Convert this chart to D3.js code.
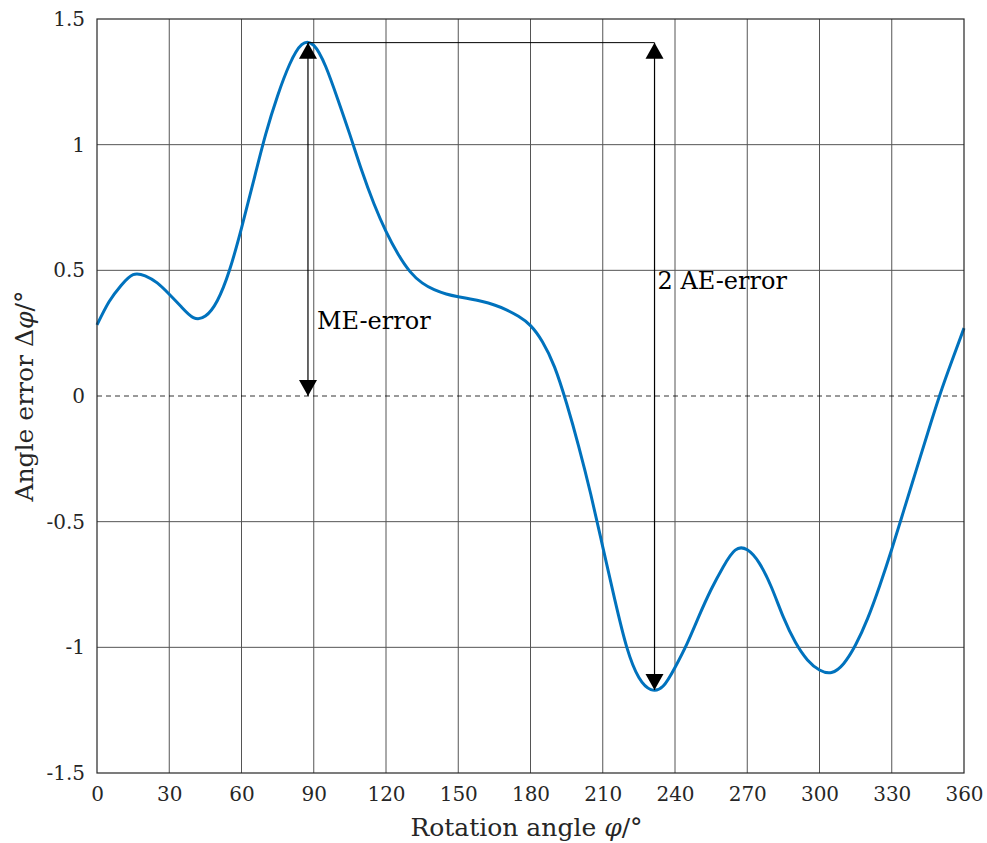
<!DOCTYPE html>
<html><head><meta charset="utf-8">
<script src="https://cdn.jsdelivr.net/npm/d3@7"></script>
<style>
body{margin:0;background:#fff}svg{display:block}
svg text{font-family:"DejaVu Serif","Liberation Serif","Times New Roman",serif !important;}
</style>
</head><body><svg id="c" width="987" height="843"></svg>
<script>
const phi = [0,5,10,15,20,25,30,35,40,45,50,55,60,65,70,75,80,85,90,95,100,105,110,115,120,125,130,135,140,145,150,155,160,165,170,175,180,185,190,195,200,205,210,215,220,225,230,235,240,245,250,255,260,265,270,275,280,285,290,295,300,305,310,315,320,325,330,335,340,345,350,355,360];
const err = [0.283,0.375,0.44,0.483,0.478,0.45,0.405,0.355,0.312,0.318,0.38,0.50,0.668,0.855,1.04,1.195,1.32,1.398,1.395,1.31,1.18,1.04,0.895,0.765,0.655,0.565,0.495,0.45,0.423,0.406,0.395,0.386,0.376,0.362,0.343,0.317,0.28,0.215,0.115,-0.03,-0.20,-0.39,-0.60,-0.81,-1.0,-1.12,-1.168,-1.155,-1.08,-0.985,-0.875,-0.77,-0.68,-0.613,-0.612,-0.665,-0.76,-0.88,-0.98,-1.05,-1.09,-1.10,-1.065,-0.99,-0.885,-0.755,-0.61,-0.455,-0.30,-0.145,0.005,0.14,0.27];
const xTicks = [0,30,60,90,120,150,180,210,240,270,300,330,360];
const yTicks = [-1.5,-1,-0.5,0,0.5,1,1.5];
const yTickLabels = ["-1.5","-1","-0.5","0","0.5","1","1.5"];
const mePhi = 87.6, meTop = 1.406, meBottom = 0;
const aePhi = 231.5, aeBottom = -1.17;

const svg = d3.select("#c");
const L=97,R=964,T=19,B=773;
const x = d3.scaleLinear().domain([0,360]).range([L,R]);
const y = d3.scaleLinear().domain([-1.5,1.5]).range([B,T]);

svg.append("g").selectAll("line").data(xTicks.slice(1,-1)).join("line")
  .attr("x1",d=>x(d)).attr("x2",d=>x(d)).attr("y1",T).attr("y2",B)
  .attr("stroke","#555").attr("stroke-width",1);
svg.append("g").selectAll("line").data(yTicks.filter(d=>d!==0 && Math.abs(d)!==1.5)).join("line")
  .attr("x1",L).attr("x2",R).attr("y1",d=>y(d)).attr("y2",d=>y(d))
  .attr("stroke","#555").attr("stroke-width",1);
svg.append("line").attr("x1",L).attr("x2",R).attr("y1",y(0)).attr("y2",y(0))
  .attr("stroke","#000").attr("stroke-width",0.8).attr("stroke-dasharray","5,4");

const xAxis = d3.axisBottom(x).tickValues(xTicks).tickSize(0).tickPadding(14);
const gx = svg.append("g").attr("transform",`translate(0,${B})`).call(xAxis);
gx.select(".domain").remove();
gx.selectAll("text").attr("font-size",20).attr("fill","#262626");
const yAxis = d3.axisLeft(y).tickValues(yTicks).tickFormat((d,i)=>yTickLabels[i]).tickSize(0).tickPadding(12);
const gy = svg.append("g").attr("transform",`translate(${L},0)`).call(yAxis);
gy.select(".domain").remove();
gy.selectAll("text").attr("font-size",20).attr("fill","#262626");

const line = d3.line().x((d,i)=>x(phi[i])).y(d=>y(d)).curve(d3.curveNatural);
svg.append("path").attr("d",line(err)).attr("fill","none").attr("stroke","#0072BD").attr("stroke-width",3);

svg.append("rect").attr("x",L).attr("y",T).attr("width",R-L).attr("height",B-T)
  .attr("fill","none").attr("stroke","#262626").attr("stroke-width",1.2);

function tri(cx,tipY,dir){
  const h=16,w=9;
  return `M${cx},${tipY} L${cx-w},${tipY-dir*h} L${cx+w},${tipY-dir*h} Z`;
}
const ann = svg.append("g");
ann.append("line").attr("x1",x(mePhi)).attr("x2",x(aePhi)).attr("y1",y(meTop)).attr("y2",y(meTop)).attr("stroke","#000").attr("stroke-width",1);
ann.append("line").attr("x1",x(mePhi)).attr("x2",x(mePhi)).attr("y1",y(meTop)).attr("y2",y(meBottom)).attr("stroke","#000").attr("stroke-width",1.2);
ann.append("line").attr("x1",x(aePhi)).attr("x2",x(aePhi)).attr("y1",y(meTop)).attr("y2",y(aeBottom)).attr("stroke","#000").attr("stroke-width",1.2);
ann.append("path").attr("d",tri(x(mePhi),y(meTop),-1)).attr("fill","#000");
ann.append("path").attr("d",tri(x(mePhi),y(meBottom),1)).attr("fill","#000");
ann.append("path").attr("d",tri(x(aePhi),y(meTop),-1)).attr("fill","#000");
ann.append("path").attr("d",tri(x(aePhi),y(aeBottom),1)).attr("fill","#000");
ann.append("text").attr("x",x(mePhi)+9).attr("y",329).attr("font-size",24).text("ME-error");
ann.append("text").attr("x",x(aePhi)+3).attr("y",289).attr("font-size",24).text("2 AE-error");

svg.append("text").attr("x",(L+R)/2 - 4).attr("y",836).attr("text-anchor","middle").attr("font-size",25).attr("fill","#262626")
  .html("Rotation angle <tspan font-style='italic'>φ</tspan>/°");
svg.append("text").attr("transform",`translate(33,${y(0)}) rotate(-90)`).attr("text-anchor","middle").attr("font-size",25).attr("fill","#262626")
  .html("Angle error Δ<tspan font-style='italic'>φ</tspan>/°");
</script></body></html>
